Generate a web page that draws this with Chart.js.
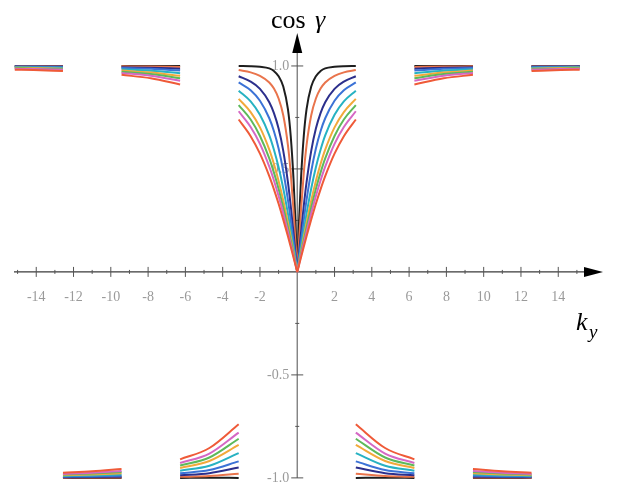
<!DOCTYPE html>
<html>
<head>
<meta charset="utf-8">
<style>
html,body{margin:0;padding:0;background:#fff;}
#wrap{width:624px;height:494px;}
</style>
<script src="https://cdn.jsdelivr.net/npm/chart.js@4"></script>
</head>
<body>
<div id="wrap"><canvas id="chart" width="624" height="494"></canvas></div>
<script>
// k_y sample positions (only k >= 0, the curves are mirrored)
const kCenter = [0, 0.1, 0.2, 0.35, 0.5, 0.75, 1, 1.25, 1.5, 2, 2.5, 3.1416];
const kOuter = [3.1416, 4.712, 6.2832, 7.854, 9.4248, 10.9956, 12.5664, 14.137, 15.15];

// sign of cos(gamma) on each outer piece: [first index, last index, sign]
const outerPieces = [[0, 2, -1], [2, 4, 1], [4, 6, -1], [6, 8, 1]];

const curveNames = ["c1", "c2", "c3", "c4", "c5", "c6", "c7", "c8", "c9"];
const curveColors = ["#1e1e1e", "#e9744c", "#2c2f8c", "#3b72d6", "#27b2c2", "#f2a93a", "#5db95a", "#d568c4", "#ef5a38"];

// |cos gamma| read at kCenter
const centerVals = [
  [0, 0.25, 0.45, 0.66, 0.79, 0.90, 0.95, 0.975, 0.988, 0.996, 0.999, 1.0],
  [0, 0.154, 0.298, 0.480, 0.616, 0.761, 0.842, 0.890, 0.920, 0.952, 0.969, 0.980],
  [0, 0.096, 0.190, 0.321, 0.436, 0.588, 0.696, 0.771, 0.824, 0.889, 0.924, 0.950],
  [0, 0.075, 0.148, 0.253, 0.350, 0.489, 0.599, 0.683, 0.746, 0.831, 0.882, 0.920],
  [0, 0.059, 0.117, 0.202, 0.283, 0.405, 0.508, 0.593, 0.663, 0.763, 0.828, 0.880],
  [0, 0.049, 0.098, 0.170, 0.239, 0.347, 0.442, 0.524, 0.594, 0.702, 0.776, 0.840],
  [0, 0.044, 0.088, 0.152, 0.215, 0.313, 0.403, 0.482, 0.551, 0.660, 0.740, 0.810],
  [0, 0.040, 0.079, 0.138, 0.195, 0.285, 0.369, 0.444, 0.511, 0.622, 0.704, 0.780],
  [0, 0.035, 0.070, 0.122, 0.173, 0.254, 0.331, 0.401, 0.465, 0.574, 0.659, 0.740]
];

// |cos gamma| read at kOuter
const outerVals = [
  [1.0, 0.999, 1.0, 1.0, 1.0, 1.0, 1.0, 1.0, 1.0],
  [0.980, 0.991, 0.995, 0.997, 0.998, 0.998, 0.999, 0.999, 0.999],
  [0.950, 0.977, 0.987, 0.991, 0.994, 0.996, 0.997, 0.997, 0.998],
  [0.920, 0.962, 0.978, 0.986, 0.990, 0.993, 0.994, 0.996, 0.996],
  [0.880, 0.941, 0.965, 0.977, 0.984, 0.988, 0.991, 0.993, 0.994],
  [0.840, 0.918, 0.952, 0.968, 0.978, 0.983, 0.987, 0.990, 0.991],
  [0.810, 0.901, 0.940, 0.961, 0.972, 0.979, 0.984, 0.987, 0.989],
  [0.780, 0.882, 0.928, 0.952, 0.966, 0.975, 0.981, 0.985, 0.986],
  [0.740, 0.855, 0.910, 0.940, 0.957, 0.968, 0.975, 0.980, 0.982]
];

const xTickLabels = [-14, -12, -10, -8, -6, -4, -2, 2, 4, 6, 8, 10, 12, 14];
const yTickValues = [1, 0.5, -0.5, -1];
const yTickLabels = ["1.0", "0.5", "-0.5", "-1.0"];

function buildData(c){
  let pts = [];
  // left side, far to near
  for(let p = outerPieces.length - 1; p >= 0; p--){
    const [a, b, s] = outerPieces[p];
    for(let i = b; i >= a; i--){
      pts.push({x: -kOuter[i], y: s * outerVals[c][i]});
    }
    pts.push({x: -kOuter[a] + 0.01, y: null});
  }
  // centre, left half
  for(let i = kCenter.length - 1; i >= 0; i--){
    pts.push({x: -kCenter[i], y: centerVals[c][i]});
  }
  pts.push({x: 0, y: null});
  for(let i = 0; i < kCenter.length; i++){
    pts.push({x: kCenter[i], y: centerVals[c][i]});
  }
  // right side
  for(let p = 0; p < outerPieces.length; p++){
    const [a, b, s] = outerPieces[p];
    pts.push({x: kOuter[a] + 0.01, y: null});
    for(let i = a; i <= b; i++){
      pts.push({x: kOuter[i], y: s * outerVals[c][i]});
    }
  }
  return pts;
}

const datasets = curveNames.map((n, i) => ({
  label: n,
  data: buildData(i),
  borderColor: curveColors[i],
  borderWidth: 2,
  pointRadius: 0,
  fill: false,
  spanGaps: false,
  cubicInterpolationMode: "monotone",
  order: curveNames.length - i
}));

const axesPlugin = {
  id: "axesPlugin",
  beforeDatasetsDraw(chart){
    const {ctx, scales: {x, y}} = chart;
    const x0 = x.getPixelForValue(0);
    const y0 = y.getPixelForValue(0);
    ctx.save();
    ctx.strokeStyle = "#3a3a3a";
    ctx.lineWidth = 1.3;
    ctx.beginPath();
    ctx.moveTo(x.left + 2, y0);
    ctx.lineTo(x.right - 10, y0);
    ctx.stroke();
    ctx.strokeStyle = "#777";
    ctx.beginPath();
    ctx.moveTo(x0, y.getPixelForValue(-1.0));
    ctx.lineTo(x0, y.top + 10);
    ctx.stroke();

    // x ticks
    ctx.strokeStyle = "#555";
    ctx.lineWidth = 1;
    for(let k = -15; k <= 15; k++){
      if(k === 0) continue;
      const px = x.getPixelForValue(k);
      const len = (k % 2 === 0) ? 5 : 2;
      ctx.beginPath();
      ctx.moveTo(px, y0 - len);
      ctx.lineTo(px, y0 + len);
      ctx.stroke();
    }
    // y ticks
    for(let v = -1; v <= 1.001; v += 0.25){
      if(Math.abs(v) < 0.01) continue;
      const py = y.getPixelForValue(v);
      const len = (Math.abs(v * 2 - Math.round(v * 2)) < 0.01) ? 6 : 2;
      ctx.beginPath();
      ctx.moveTo(x0 - len, py);
      ctx.lineTo(x0 + len, py);
      ctx.stroke();
    }

    ctx.fillStyle = "#9a9a9a";
    ctx.font = "14px 'Liberation Serif', serif";
    ctx.textAlign = "center";
    ctx.textBaseline = "middle";
    xTickLabels.forEach(v => {
      ctx.fillText(String(v), x.getPixelForValue(v), y0 + 25);
    });
    ctx.textAlign = "right";
    yTickValues.forEach((v, i) => {
      ctx.fillText(yTickLabels[i], x0 - 8, y.getPixelForValue(v));
    });
    ctx.restore();
  },
  afterDatasetsDraw(chart){
    const {ctx, scales: {x, y}} = chart;
    const x0 = x.getPixelForValue(0);
    const y0 = y.getPixelForValue(0);
    ctx.save();
    ctx.fillStyle = "#000";
    // x arrow
    ctx.beginPath();
    ctx.moveTo(x.right, y0);
    ctx.lineTo(x.right - 19, y0 - 5);
    ctx.lineTo(x.right - 19, y0 + 5);
    ctx.closePath();
    ctx.fill();
    // y arrow
    ctx.beginPath();
    ctx.moveTo(x0, y.top);
    ctx.lineTo(x0 - 5, y.top + 20);
    ctx.lineTo(x0 + 5, y.top + 20);
    ctx.closePath();
    ctx.fill();

    ctx.textBaseline = "alphabetic";
    ctx.textAlign = "left";
    ctx.font = "26px 'Liberation Serif', serif";
    ctx.fillText("cos", 271, 28);
    ctx.font = "italic 26px 'Liberation Serif', serif";
    ctx.fillText("\u03b3", 315, 28);
    ctx.fillText("k", 576, 330);
    ctx.font = "italic 19px 'Liberation Serif', serif";
    ctx.fillText("y", 589, 338);
    ctx.restore();
  }
};

new Chart(document.getElementById("chart"), {
  type: "line",
  data: {datasets: datasets},
  options: {
    responsive: false,
    animation: false,
    layout: {padding: {left: 12, right: 21, top: 33, bottom: 12}},
    plugins: {legend: {display: false}, tooltip: {enabled: false}},
    scales: {
      x: {type: "linear", min: -15.3, max: 16.4, display: false},
      y: {type: "linear", min: -1.02, max: 1.16, display: false}
    }
  },
  plugins: [axesPlugin]
});
</script>
</body>
</html>
